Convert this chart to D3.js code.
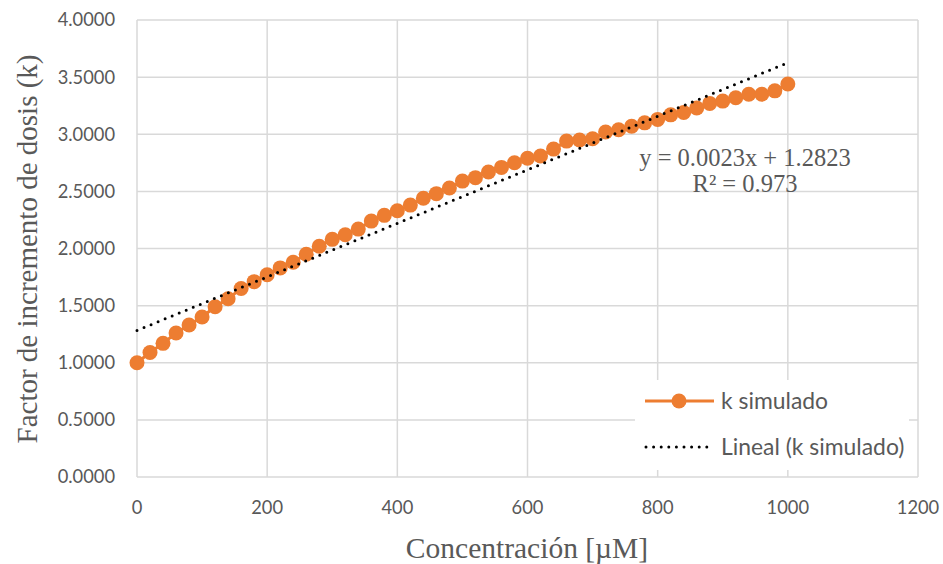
<!DOCTYPE html>
<html><head><meta charset="utf-8">
<script src="https://cdn.jsdelivr.net/npm/d3@7"></script>
<style>body{margin:0;background:#fff}</style>
</head><body>
<svg id="c" width="943" height="564"></svg>
<script>
const concentrations = d3.range(0, 1001, 20);
const kValues = [1.00,1.09,1.17,1.26,1.33,1.40,1.49,1.56,1.65,1.71,1.77,1.83,1.88,1.95,2.02,2.08,2.12,2.17,2.24,2.29,2.33,2.38,2.44,2.48,2.53,2.59,2.62,2.67,2.71,2.75,2.79,2.81,2.87,2.94,2.95,2.96,3.02,3.04,3.07,3.10,3.13,3.17,3.19,3.23,3.27,3.29,3.32,3.35,3.35,3.38,3.44];
const xTicks = [0,200,400,600,800,1000,1200];
const yTicks = [0,0.5,1,1.5,2,2.5,3,3.5,4];
const equationText = "y = 0.0023x + 1.2823";
const r2Text = "R² = 0.973";
const seriesName = "k simulado";
const trendName = "Lineal (k simulado)";

const svg = d3.select("#c");
const L = 137, R = 918, T = 20, B = 477;
const x = d3.scaleLinear().domain([0,1200]).range([L,R]);
const y = d3.scaleLinear().domain([0,4]).range([B,T]);
const grey = "#595959", gridC = "#d9d9d9";

// gridlines
svg.append("g").selectAll("line").data(yTicks).join("line")
  .attr("x1",L).attr("x2",R).attr("y1",d=>y(d)).attr("y2",d=>y(d))
  .attr("stroke",gridC).attr("stroke-width",1.5);
svg.append("g").selectAll("line").data(xTicks).join("line")
  .attr("x1",d=>x(d)).attr("x2",d=>x(d)).attr("y1",T).attr("y2",B)
  .attr("stroke",gridC).attr("stroke-width",1.5);

// tick labels
const tickFont = "Lato, 'Open Sans', sans-serif";
svg.append("g").selectAll("text").data(yTicks).join("text")
  .attr("x",L-22).attr("y",d=>y(d)).attr("dy","0.35em").attr("text-anchor","end")
  .attr("font-family",tickFont).attr("font-size",18.3).attr("fill",grey)
  .text(d=>d3.format(".4f")(d));
svg.append("g").selectAll("text").data(xTicks).join("text")
  .attr("x",d=>x(d)).attr("y",B+31).attr("dy","0.35em").attr("text-anchor","middle")
  .attr("font-family",tickFont).attr("font-size",18.3).attr("fill",grey)
  .text(d=>d);

// axis titles
svg.append("text").attr("x",527).attr("y",548).attr("dy","0.35em").attr("text-anchor","middle")
  .attr("font-family","'Liberation Serif', serif").attr("font-size",29.5).attr("fill",grey)
  .text("Concentración [µM]");
svg.append("text").attr("transform","translate(27,249) rotate(-90)").attr("dy","0.35em").attr("text-anchor","middle")
  .attr("font-family","'Liberation Serif', serif").attr("font-size",29).attr("fill",grey)
  .text("Factor de incremento de dosis (k)");

// data series
const data = concentrations.map((c,i)=>({c,k:kValues[i]}));
const orange = "#ed7d31";
svg.append("path").datum(data)
  .attr("d", d3.line().x(d=>x(d.c)).y(d=>y(d.k)))
  .attr("fill","none").attr("stroke",orange).attr("stroke-width",3);
svg.append("g").selectAll("circle").data(data).join("circle")
  .attr("cx",d=>x(d.c)).attr("cy",d=>y(d.k)).attr("r",7.5).attr("fill",orange);

// linear trend (least squares from data)
const mx = d3.mean(concentrations), my = d3.mean(kValues);
const slope = d3.sum(data,d=>(d.c-mx)*(d.k-my))/d3.sum(data,d=>(d.c-mx)**2);
const icpt = my - slope*mx;
const ext = d3.extent(concentrations);
svg.append("line")
  .attr("x1",x(ext[0])).attr("y1",y(icpt+slope*ext[0]))
  .attr("x2",x(ext[1])).attr("y2",y(icpt+slope*ext[1]))
  .attr("stroke","#000").attr("stroke-width",3).attr("stroke-linecap","round")
  .attr("stroke-dasharray","0 7.6");

// equation
svg.append("text").attr("x",745).attr("y",157).attr("dy","0.35em").attr("text-anchor","middle")
  .attr("font-family","'Liberation Serif', serif").attr("font-size",24.5).attr("fill",grey).text(equationText);
svg.append("text").attr("x",745).attr("y",183).attr("dy","0.35em").attr("text-anchor","middle")
  .attr("font-family","'Liberation Serif', serif").attr("font-size",24.5).attr("fill",grey).text(r2Text);

// legend
const lg = svg.append("g");
lg.append("rect").attr("x",635).attr("y",380).attr("width",274).attr("height",90).attr("fill","#fff");
lg.append("line").attr("x1",645).attr("x2",714).attr("y1",401).attr("y2",401).attr("stroke",orange).attr("stroke-width",3);
lg.append("circle").attr("cx",679).attr("cy",401).attr("r",7.5).attr("fill",orange);
lg.append("text").attr("x",721).attr("y",401).attr("dy","0.35em").attr("font-family",tickFont).attr("font-size",22.9).attr("fill",grey).text(seriesName);
lg.append("line").attr("x1",646).attr("x2",714).attr("y1",447).attr("y2",447).attr("stroke","#000").attr("stroke-width",3)
  .attr("stroke-linecap","round").attr("stroke-dasharray","0 7.6");
lg.append("text").attr("x",721).attr("y",447).attr("dy","0.35em").attr("font-family",tickFont).attr("font-size",22.9).attr("fill",grey).text(trendName);
</script>
</body></html>
